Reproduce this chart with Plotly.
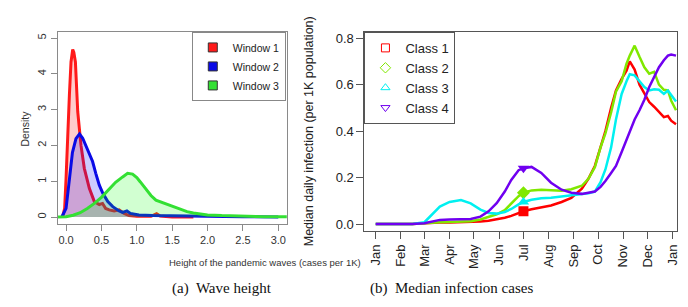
import plotly.graph_objects as go

# ---------------- Left panel: density of wave heights ----------------
w1_x = [-0.05, -0.02, 0.0, 0.024, 0.047, 0.07, 0.094, 0.11, 0.132, 0.165, 0.211, 0.258, 0.329, 0.4,
        0.47, 0.516, 0.56, 0.61, 0.68, 0.75, 0.82, 0.89, 1.0, 1.2, 1.28, 1.33, 1.5, 1.8]
w1_y = [0.0, 0.24, 1.08, 2.47, 3.4, 4.33, 4.68, 4.6, 4.33, 2.94, 2.0, 1.36, 0.8, 0.43,
        0.35, 0.38, 0.24, 0.2, 0.17, 0.2, 0.1, 0.04, 0.02, 0.02, 0.09, 0.03, 0.0, 0.0]

w2_x = [-0.06, 0.0, 0.05, 0.09, 0.14, 0.19, 0.235, 0.28, 0.33, 0.375, 0.42, 0.47, 0.52, 0.59,
        0.66, 0.75, 0.8, 0.86, 0.91, 1.03, 1.22, 1.5, 2.0, 2.5, 3.0]
w2_y = [0.0, 0.24, 1.1, 1.8, 2.19, 2.32, 2.2, 2.0, 1.77, 1.55, 1.22, 0.89, 0.66, 0.43,
        0.29, 0.17, 0.13, 0.17, 0.1, 0.056, 0.04, 0.03, 0.02, 0.01, 0.0]

w3_x = [-0.15, 0.0, 0.1, 0.2, 0.3, 0.4, 0.5, 0.6, 0.7, 0.8, 0.87, 0.94, 1.0, 1.05, 1.1, 1.15,
        1.2, 1.27, 1.36, 1.45, 1.52, 1.62, 1.71, 1.8, 1.9, 2.0, 2.2, 2.5, 2.8, 3.15]
w3_y = [0.0, 0.01, 0.05, 0.12, 0.24, 0.38, 0.55, 0.76, 0.97, 1.12, 1.22, 1.2, 1.1, 0.98, 0.86, 0.72,
        0.6, 0.47, 0.4, 0.34, 0.29, 0.21, 0.15, 0.11, 0.08, 0.06, 0.04, 0.02, 0.01, 0.005]

window_names = ["Window 1", "Window 2", "Window 3"]
left_ticks = [0.0, 0.5, 1.0, 1.5, 2.0, 2.5, 3.0]
left_yticks = [0, 1, 2, 3, 4, 5]

# ---------------- Right panel: median daily infection ----------------
dates = ["2020-01-01", "2020-01-15", "2020-02-01", "2020-02-15", "2020-03-01", "2020-03-10",
         "2020-03-20", "2020-04-01", "2020-04-15", "2020-04-27", "2020-05-09", "2020-05-19",
         "2020-05-29", "2020-06-08", "2020-06-16", "2020-06-25", "2020-07-01", "2020-07-11",
         "2020-07-23", "2020-08-04", "2020-08-17", "2020-08-29", "2020-09-11", "2020-09-19",
         "2020-09-27", "2020-10-04", "2020-10-10", "2020-10-17", "2020-10-23", "2020-10-30",
         "2020-11-05", "2020-11-09", "2020-11-15", "2020-11-21", "2020-11-27", "2020-12-03",
         "2020-12-09", "2020-12-15", "2020-12-21", "2020-12-26", "2020-12-30", "2021-01-05"]

class1 = [0, 0, 0, 0, 0.004, 0.006, 0.007, 0.007, 0.008, 0.009, 0.011, 0.014,
          0.02, 0.027, 0.035, 0.047, 0.055, 0.064, 0.072, 0.08, 0.095, 0.113, 0.152, 0.195,
          0.25, 0.33, 0.40, 0.50, 0.575, 0.625, 0.66, 0.70, 0.665, 0.60, 0.56, 0.525,
          0.505, 0.48, 0.46, 0.465, 0.445, 0.43]
class2 = [0, 0, 0, 0, 0.004, 0.007, 0.008, 0.009, 0.01, 0.012, 0.02, 0.03,
          0.042, 0.06, 0.09, 0.12, 0.135, 0.145, 0.148, 0.146, 0.143, 0.15, 0.165, 0.195,
          0.245, 0.33, 0.39, 0.48, 0.57, 0.615, 0.69, 0.725, 0.768, 0.72, 0.675, 0.647,
          0.655, 0.6, 0.578, 0.575, 0.532, 0.49]
class3 = [0, 0, 0, 0, 0.008, 0.039, 0.075, 0.095, 0.103, 0.089, 0.062, 0.048,
          0.045, 0.052, 0.065, 0.085, 0.095, 0.105, 0.111, 0.113, 0.118, 0.123, 0.128, 0.133,
          0.14, 0.18, 0.235, 0.33, 0.45, 0.56, 0.615, 0.645, 0.64, 0.615, 0.59, 0.575,
          0.58, 0.578, 0.56, 0.575, 0.555, 0.528]
class4 = [0, 0, 0, 0, 0.004, 0.012, 0.018, 0.02, 0.02, 0.022, 0.032, 0.055,
          0.09, 0.14, 0.19, 0.232, 0.24, 0.246, 0.22, 0.178, 0.148, 0.135, 0.13, 0.135,
          0.14, 0.16, 0.185, 0.22, 0.25, 0.31, 0.36, 0.40, 0.45, 0.49, 0.535, 0.59,
          0.633, 0.675, 0.705, 0.725, 0.73, 0.725]

class_names = ["Class 1", "Class 2", "Class 3", "Class 4"]
marker_date = "2020-07-01"
month_ticks = ["2020-01-01", "2020-02-01", "2020-03-01", "2020-04-01", "2020-05-01", "2020-06-01",
               "2020-07-01", "2020-08-01", "2020-09-01", "2020-10-01", "2020-11-01", "2020-12-01",
               "2021-01-01"]
month_labels = ["Jan", "Feb", "Mar", "Apr", "May", "Jun", "Jul", "Aug", "Sep", "Oct", "Nov", "Dec", "Jan"]
right_yticks = [0.0, 0.2, 0.4, 0.6, 0.8]

FONT = "Liberation Sans, Arial, sans-serif"
W, H = 688, 307

fig = go.Figure()

# left: density curves with transparent fills
left_line = ["#ff1a1a", "#0a0ae6", "#33e033"]
left_fill = ["rgba(255,0,0,0.2)", "rgba(0,0,255,0.2)", "rgba(0,255,0,0.18)"]
for xs, ys, lc, fc, nm in zip([w1_x, w2_x, w3_x], [w1_y, w2_y, w3_y], left_line, left_fill, window_names):
    fig.add_trace(go.Scatter(x=xs, y=ys, mode="lines", fill="tozeroy", fillcolor=fc,
                             line=dict(color=lc, width=3), name=nm, showlegend=False,
                             xaxis="x", yaxis="y", hoverinfo="skip"))
for lc, nm in zip(left_line, window_names):
    fig.add_trace(go.Scatter(x=[None], y=[None], mode="markers", name=nm, legend="legend",
                             marker=dict(symbol="square", size=9, color=lc,
                                         line=dict(color="#333333", width=1)),
                             xaxis="x", yaxis="y"))

# right: lines, filled markers at July, legend with open markers
right_col = ["#ff0000", "#80e800", "#00f0f0", "#7000f0"]
filled_sym = ["square", "diamond", "triangle-up", "triangle-down"]
open_sym = ["square-open", "diamond-open", "triangle-up-open", "triangle-down-open"]
series = [class1, class2, class3, class4]
mi = dates.index(marker_date)
for ys, c, nm in zip(series, right_col, class_names):
    fig.add_trace(go.Scatter(x=dates, y=ys, mode="lines", line=dict(color=c, width=2.5),
                             showlegend=False, xaxis="x2", yaxis="y2", name=nm))
for ys, c, s in zip(series, right_col, filled_sym):
    fig.add_trace(go.Scatter(x=[dates[mi]], y=[ys[mi]], mode="markers", showlegend=False,
                             marker=dict(symbol=s, size=10, color=c), xaxis="x2", yaxis="y2"))
for c, s, nm in zip(right_col, open_sym, class_names):
    fig.add_trace(go.Scatter(x=[None], y=[None], mode="markers", name=nm, legend="legend2",
                             marker=dict(symbol=s, size=8, color=c, line=dict(width=1)),
                             xaxis="x2", yaxis="y2"))

def px_x(p):
    return p / W

def px_y(p):
    return 1 - p / H

axis_common = dict(showgrid=False, zeroline=False, showline=True, mirror=True, ticks="outside")

fig.update_layout(
    width=W, height=H, margin=dict(l=0, r=0, t=0, b=0),
    paper_bgcolor="white", plot_bgcolor="white",
    font=dict(family=FONT, color="#222222"),
    xaxis=dict(domain=[px_x(50), px_x(280)], range=[-0.117, 3.12], anchor="y",
               tickvals=left_ticks, ticktext=[f"{v:.1f}" for v in left_ticks],
               linecolor="#8a8a8a", tickcolor="#8a8a8a", ticklen=6,
               tickfont=dict(size=11, color="#333333"), **axis_common),
    yaxis=dict(domain=[px_y(216), px_y(23)], range=[-0.203, 5.17], anchor="x",
               tickvals=left_yticks, tickangle=-90,
               linecolor="#8a8a8a", tickcolor="#8a8a8a", ticklen=6,
               tickfont=dict(size=11, color="#333333"), **axis_common),
    xaxis2=dict(domain=[px_x(358), px_x(672)], type="date",
                range=["2019-12-18 02:00", "2021-01-06 07:00"], anchor="y2",
                tickvals=month_ticks, ticktext=month_labels, tickangle=-90,
                linecolor="#555555", tickcolor="#555555", ticklen=7,
                tickfont=dict(size=13, color="#222222"), **axis_common),
    yaxis2=dict(domain=[px_y(223), px_y(23)], range=[-0.031, 0.827], anchor="x2",
                tickvals=right_yticks, ticktext=[f"{v:.1f}" for v in right_yticks],
                linecolor="#555555", tickcolor="#555555", ticklen=7,
                tickfont=dict(size=13, color="#222222"), **axis_common),
    legend=dict(x=px_x(279), xanchor="right", y=px_y(23), yanchor="top",
                bordercolor="#888888", borderwidth=1, bgcolor="white",
                font=dict(size=10.5, color="#222222"), tracegroupgap=0),
    legend2=dict(x=px_x(358), xanchor="left", y=px_y(23), yanchor="top",
                 bordercolor="#555555", borderwidth=1, bgcolor="white",
                 font=dict(size=13, color="#222222"), tracegroupgap=0),
    showlegend=True,
)

fig.add_annotation(text="Density", xref="paper", yref="paper", x=px_x(9), y=px_y(120),
                   textangle=-90, showarrow=False, font=dict(size=10.5, color="#333333"))
fig.add_annotation(text="Height of the pandemic waves (cases per 1K)", xref="paper", yref="paper",
                   x=px_x(160), y=px_y(262), showarrow=False, font=dict(size=9.5, color="#333333"))
fig.add_annotation(text="Median daily infection (per 1K population)", xref="paper", yref="paper",
                   x=px_x(302), y=px_y(123), textangle=-90, showarrow=False,
                   font=dict(size=12.5, color="#222222"))
fig.add_annotation(text="(a)  Wave height", xref="paper", yref="paper", x=px_x(163), y=px_y(291),
                   showarrow=False, font=dict(family="Liberation Serif, Times New Roman, serif",
                                              size=15, color="#111111"))
fig.add_annotation(text="(b)  Median infection cases", xref="paper", yref="paper", x=px_x(529),
                   y=px_y(291), showarrow=False,
                   font=dict(family="Liberation Serif, Times New Roman, serif", size=15, color="#111111"))

fig.write_html("out.html")
